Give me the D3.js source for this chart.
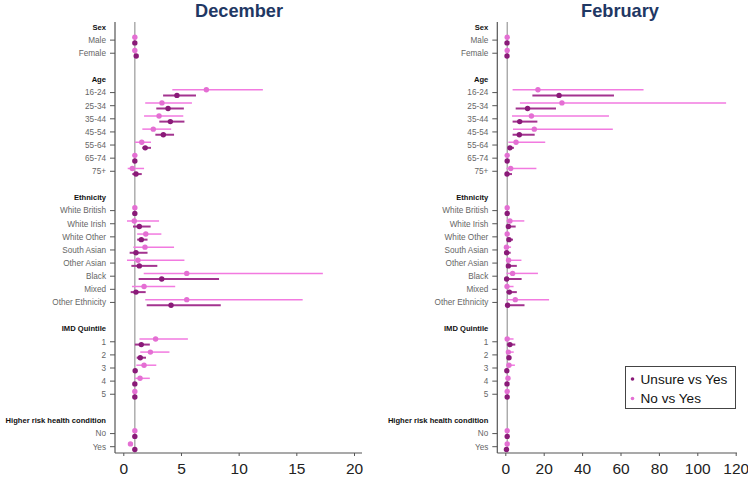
<!DOCTYPE html>
<html><head><meta charset="utf-8">
<script src="https://cdn.jsdelivr.net/npm/d3@7"></script>
<style>body{margin:0;background:#fff}svg{display:block}text{font-family:"Liberation Sans",Arial,sans-serif}</style>
</head><body><svg id="c" width="748" height="480"></svg>
<script>
const rowLabels = ["Sex","Male","Female","","Age","16-24","25-34","35-44","45-54","55-64","65-74","75+","",
  "Ethnicity","White British","White Irish","White Other","South Asian","Other Asian","Black","Mixed","Other Ethnicity","",
  "IMD Quintile","1","2","3","4","5","","Higher risk health condition","No","Yes"];
const headerLabels = ["Sex","Age","Ethnicity","IMD Quintile","Higher risk health condition"];
const items = ["Male","Female","16-24","25-34","35-44","45-54","55-64","65-74","75+",
  "White British","White Irish","White Other","South Asian","Other Asian","Black","Mixed","Other Ethnicity",
  "1","2","3","4","5","No","Yes"];
const seriesNames = ["Unsure vs Yes","No vs Yes"];
// [estimate, lower, upper]
const decNo = [[1,1,1],[1.0,0.92,1.1],[7.2,4.25,12.1],[3.35,1.9,5.95],[3.1,1.8,5.2],[2.6,1.65,4.15],[1.6,1.0,2.4],[1,1,1],[0.78,0.38,1.8],
  [1,1,1],[0.95,0.32,3.1],[1.95,1.2,3.3],[1.88,0.87,4.4],[1.27,0.32,5.3],[5.5,1.77,17.3],[1.8,0.75,4.5],[5.5,1.9,15.55],
  [2.8,1.4,5.6],[2.35,1.47,4.0],[1.8,1.13,2.86],[1.45,1.0,2.3],[1,1,1],[1,1,1],[0.62,0.52,0.74]];
const decUnsure = [[1,1,1],[1.12,1.0,1.25],[4.65,3.45,6.3],[3.88,2.86,5.25],[4.08,3.12,5.3],[3.47,2.78,4.4],[1.9,1.65,2.4],[1,1,1],[1.1,0.78,1.6],
  [1,1,1],[1.39,0.84,2.37],[1.56,1.2,2.1],[1.1,0.55,2.1],[1.39,0.7,2.95],[3.33,1.33,8.3],[1.1,0.64,1.94],[4.14,2.03,8.45],
  [1.56,1.0,2.3],[1.47,1.16,1.97],[1.03,0.85,1.2],[1.0,0.9,1.15],[1,1,1],[1,1,1],[1.0,0.9,1.1]];
const febNo = [[1,1,1],[1.0,0.9,1.1],[17.0,3.8,72],[29.5,7.6,115],[13.6,3.5,54],[15.1,4.0,56],[5.6,1.6,20.8],[1,1,1],[2.8,0.6,16.2],
  [1,1,1],[2.4,0.6,9.9],[1.0,0.5,2.0],[0.6,0.1,3.0],[1.7,0.5,8.4],[3.8,0.6,17],[0.9,0.1,4.3],[5.2,0.6,22.8],
  [1.0,0.3,4.3],[1.6,0.7,4.4],[1.9,0.8,5.0],[1.4,0.7,2.4],[1,1,1],[1,1,1],[1.0,0.7,1.4]];
const febUnsure = [[0.9,0.8,1.0],[0.9,0.8,1.0],[28,14.1,56.6],[11.6,5.4,26.4],[7.5,3.8,16.7],[7.3,3.8,15.3],[2.4,1.5,4.5],[1,1,1],[0.9,0.5,3.5],
  [1,1,1],[1.6,0.8,5.4],[1.9,0.8,4.0],[0.7,0.1,2.8],[1.6,0.8,6.0],[0.7,0.3,8.5],[2.1,0.6,6.0],[1.2,0.4,10],
  [2.4,0.8,5.2],[1.9,0.9,3.0],[0.8,0.6,1.1],[0.9,0.7,1.2],[1,1,1],[1,1,1],[0.6,0.4,0.9]];
const decTicks = [0,5,10,15,20];
const febTicks = [0,20,40,60,80,100,120];
const titles = ["December","February"];

const svg = d3.select("#c");
const colNo = {pt:"#e46fd3", ln:"#f27ae0"};
const colUn = {pt:"#8a1a78", ln:"#a3338f"};
const y = d3.scaleLinear().domain([0, rowLabels.length-1]).range([27, 446.7]);
const rowIndex = {};
rowLabels.forEach((l,i)=>{ if(l && !headerLabels.includes(l)) rowIndex[l]=i; });

function panel(cfg){
  const g = svg.append("g");
  const x = d3.scaleLinear().domain(cfg.domain).range(cfg.range);
  const yTop = 22, yBot = 453;
  g.append("text").attr("x", cfg.titleX).attr("y", 16.5).attr("text-anchor","middle")
    .attr("font-size", 18.2).attr("font-weight","bold").attr("fill","#1f3864").text(cfg.title);
  g.append("line").attr("x1",cfg.axisX).attr("x2",cfg.axisX).attr("y1",yTop).attr("y2",yBot)
    .attr("stroke","#555").attr("stroke-width",1.2);
  const xa = d3.axisBottom(x).tickValues(cfg.ticks).tickSize(3).tickSizeOuter(0);
  const ax = g.append("g").attr("transform",`translate(0,${yBot})`).call(xa);
  ax.select(".domain").remove();
  ax.selectAll(".tick line").attr("stroke","#555");
  ax.selectAll(".tick text").attr("font-size",15.5).attr("fill","#222").attr("dy","0.95em")
    .style("font-family","'Liberation Sans',Arial,sans-serif");
  g.append("line").attr("x1",cfg.axisX).attr("x2",cfg.axisEnd).attr("y1",yBot).attr("y2",yBot)
    .attr("stroke","#555").attr("stroke-width",1.2);
  g.append("line").attr("x1",x(1)).attr("x2",x(1)).attr("y1",yTop).attr("y2",yBot)
    .attr("stroke","#999").attr("stroke-width",1.2);
  rowLabels.forEach((l,i)=>{
    if(!l) return;
    const isHead = headerLabels.includes(l);
    const t = g.append("text").attr("x", cfg.axisX-9).attr("y", y(i)).attr("dy","0.35em")
      .attr("text-anchor","end").attr("font-size", isHead?7.6:8.2)
      .attr("font-weight", isHead?"bold":"normal").attr("fill", isHead?"#111":"#666").text(l);
    const maxW = cfg.axisX - 9 - cfg.labelMin;
    if(t.node().getComputedTextLength() > maxW){
      t.attr("textLength", maxW).attr("lengthAdjust","spacingAndGlyphs");
    }
    if(!isHead){
      g.append("line").attr("x1",cfg.axisX-5).attr("x2",cfg.axisX).attr("y1",y(i)).attr("y2",y(i))
        .attr("stroke","#555").attr("stroke-width",1);
    }
  });
  const series = [{d:cfg.no, c:colNo, off:-2.8, w:1.5},{d:cfg.un, c:colUn, off:2.8, w:2}];
  series.forEach(s=>{
    const sg = g.append("g");
    sg.selectAll("line.ci").data(s.d).join("line").attr("class","ci")
      .attr("x1",(d)=>x(d[1])).attr("x2",(d)=>x(d[2]))
      .attr("y1",(d,i)=>y(rowIndex[items[i]])+s.off).attr("y2",(d,i)=>y(rowIndex[items[i]])+s.off)
      .attr("stroke",s.c.ln).attr("stroke-width",s.w);
    sg.selectAll("circle").data(s.d).join("circle")
      .attr("cx",(d)=>x(d[0])).attr("cy",(d,i)=>y(rowIndex[items[i]])+s.off)
      .attr("r",2.7).attr("fill",s.c.pt);
  });
}

panel({title:titles[0], titleX:239, axisX:115, axisEnd:362, labelMin:2, domain:[0,20], range:[123.3,354], ticks:decTicks, no:decNo, un:decUnsure});
panel({title:titles[1], titleX:620, axisX:497.3, axisEnd:737, labelMin:382, domain:[0,120], range:[505.3,735.7], ticks:febTicks, no:febNo, un:febUnsure});

const lg = svg.append("g");
lg.append("rect").attr("x",625.5).attr("y",366.5).attr("width",110).attr("height",42)
  .attr("fill","#fff").attr("stroke","#444").attr("stroke-width",1);
[colUn, colNo].forEach((c,i)=>{
  lg.append("circle").attr("cx",632.5).attr("cy",379+i*19.5).attr("r",1.8).attr("fill",c.pt);
  lg.append("text").attr("x",640.5).attr("y",379+i*19.5).attr("dy","0.36em").attr("font-size",13.6)
    .attr("fill","#111").text(seriesNames[i]);
});
</script></body></html>
